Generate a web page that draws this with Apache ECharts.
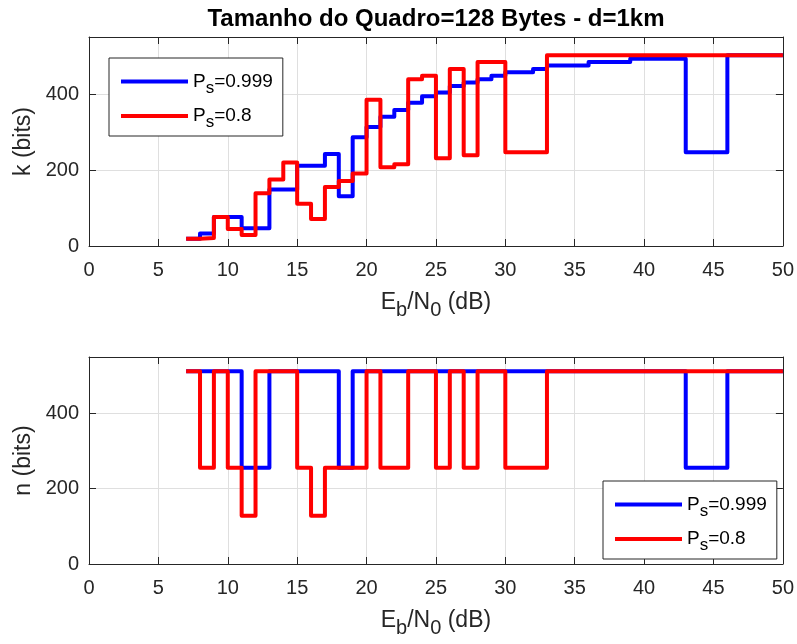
<!DOCTYPE html>
<html>
<head>
<meta charset="utf-8">
<script src="https://cdn.jsdelivr.net/npm/echarts@6/dist/echarts.min.js"></script>
<style>
  html, body { margin: 0; padding: 0; background: #ffffff; }
  #chart { width: 797px; height: 644px; }
</style>
</head>
<body>
<div id="chart"></div>
<script>
// Eb/N0 steps (dB); each value holds until the next step (stairs)
const ebN0 = [7, 8, 9, 10, 11, 12, 13, 14, 15, 16, 17, 18, 19, 20, 21, 22, 23, 24, 25, 26, 27, 28,
              29, 30, 31, 32, 33, 34, 35, 36, 37, 38, 39, 40, 41, 42, 43, 44, 45, 46, 47, 48, 49, 50];

// information bits k for each target success probability
const kPs999 = [19, 33, 76, 76, 47, 47, 149, 149, 211, 211, 242, 131, 286, 313, 340, 358, 377, 394, 404, 421, 430, 439,
                448, 457, 457, 466, 475, 475, 475, 484, 484, 484, 493, 493, 493, 493, 247, 247, 247, 502, 502, 502, 502, 502];
const kPs08   = [19, 21, 76, 45, 29, 139, 175, 220, 111, 71, 155, 171, 191, 385, 207, 215, 439, 448, 231, 466, 239, 484,
                484, 247, 247, 247, 502, 502, 502, 502, 502, 502, 502, 502, 502, 502, 502, 502, 502, 502, 502, 502, 502, 502];

// code word length n
const nPs999 = [512, 512, 512, 512, 256, 256, 512, 512, 512, 512, 512, 256, 512, 512, 512, 512, 512, 512, 512, 512, 512, 512,
                512, 512, 512, 512, 512, 512, 512, 512, 512, 512, 512, 512, 512, 512, 256, 256, 256, 512, 512, 512, 512, 512];
const nPs08   = [512, 256, 512, 256, 128, 512, 512, 512, 256, 128, 256, 256, 256, 512, 256, 256, 512, 512, 256, 512, 256, 512,
                512, 256, 256, 256, 512, 512, 512, 512, 512, 512, 512, 512, 512, 512, 512, 512, 512, 512, 512, 512, 512, 512];

const xTicks = { min: 0, max: 50, step: 5 };
const yTicks = { min: 0, max: 550, step: 200 };

const seriesNames = ['Ps=0.999', 'Ps=0.8'];
const legendText = { 'Ps=0.999': '{m|P}{s|s}{m|=0.999}', 'Ps=0.8': '{m|P}{s|s}{m|=0.8}' };

const FONT = '"Liberation Sans", Arial, Helvetica, sans-serif';
const INK = '#262626';
const GRIDLINE = '#dfdfdf';
const BLUE = '#0000ff';
const RED = '#ff0000';

function pairs(ys) { return ebN0.map((x, i) => [x, ys[i]]); }

const xName = '{m|E}{s|b}{m|/N}{s|0}{m| (dB)}';
const nameRich = {
  m: { fontSize: 23, lineHeight: 34, fontFamily: FONT, color: INK },
  s: { fontSize: 20, lineHeight: 14, fontFamily: FONT, color: INK, verticalAlign: 'bottom' }
};

function xAxes(g) {
  const common = {
    type: 'value', gridIndex: g, min: xTicks.min, max: xTicks.max, interval: xTicks.step,
    axisLine: { show: true, onZero: false, lineStyle: { color: INK, width: 1 } },
    axisTick: { show: true, inside: true, length: 7, lineStyle: { color: INK, width: 1 } }
  };
  return [
    Object.assign({}, common, {
      position: 'bottom',
      axisLabel: { color: INK, fontSize: 20, fontFamily: FONT, margin: 14 },
      splitLine: { show: true, lineStyle: { color: GRIDLINE, width: 1 } },
      name: xName, nameLocation: 'middle', nameGap: 40,
      nameTextStyle: { rich: nameRich }
    }),
    Object.assign({}, common, {
      position: 'top',
      axisLabel: { show: false },
      splitLine: { show: false }
    })
  ];
}

function yAxes(g, label) {
  const common = {
    type: 'value', gridIndex: g, min: yTicks.min, max: yTicks.max, interval: yTicks.step,
    axisLine: { show: true, onZero: false, lineStyle: { color: INK, width: 1 } },
    axisTick: { show: true, inside: true, length: 7, lineStyle: { color: INK, width: 1 } }
  };
  return [
    Object.assign({}, common, {
      position: 'left',
      axisLabel: { color: INK, fontSize: 20, fontFamily: FONT, margin: 10, showMaxLabel: false },
      splitLine: { show: true, lineStyle: { color: GRIDLINE, width: 1 } },
      name: label, nameLocation: 'middle', nameGap: 49, nameRotate: 90,
      nameTextStyle: { fontSize: 23, fontFamily: FONT, color: INK }
    }),
    Object.assign({}, common, {
      position: 'right',
      axisLabel: { show: false },
      splitLine: { show: false }
    })
  ];
}

function legendAt(pos) {
  return Object.assign({
    orient: 'vertical',
    data: seriesNames,
    icon: 'rect',
    itemWidth: 67,
    itemHeight: 4,
    itemGap: 10,
    padding: [14, 10, 5, 12],
    borderColor: INK,
    borderWidth: 1,
    backgroundColor: '#ffffff',
    selectedMode: false,
    formatter: name => legendText[name],
    textStyle: {
      rich: {
        m: { fontSize: 19, lineHeight: 30, fontFamily: FONT, color: '#000000' },
        s: { fontSize: 17, lineHeight: 12, fontFamily: FONT, color: '#000000', verticalAlign: 'bottom' }
      }
    }
  }, pos);
}

function stairs(name, color, ys, g) {
  return {
    name: name, type: 'line', step: 'end',
    xAxisIndex: g * 2, yAxisIndex: g * 2,
    data: pairs(ys),
    showSymbol: false, symbol: 'none',
    color: color,
    lineStyle: { color: color, width: 4, join: 'round', cap: 'butt' },
    emphasis: { disabled: true },
    animation: false
  };
}

const chart = echarts.init(document.getElementById('chart'), null, { renderer: 'canvas' });
chart.setOption({
  backgroundColor: '#ffffff',
  animation: false,
  title: {
    text: 'Tamanho do Quadro=128 Bytes - d=1km',
    left: 436, top: 7, padding: 0, textAlign: 'center',
    textStyle: { fontSize: 24, fontWeight: 'bold', fontFamily: FONT, color: '#000000' }
  },
  grid: [
    { left: 89, top: 37, width: 694, height: 209 },
    { left: 89, top: 357, width: 694, height: 207 }
  ],
  xAxis: xAxes(0).concat(xAxes(1)),
  yAxis: yAxes(0, 'k (bits)').concat(yAxes(1, 'n (bits)')),
  legend: [
    legendAt({ left: 109, top: 58 }),
    legendAt({ left: 603, top: 481 })
  ],
  series: [
    stairs(seriesNames[0], BLUE, kPs999, 0),
    stairs(seriesNames[1], RED, kPs08, 0),
    stairs(seriesNames[0], BLUE, nPs999, 1),
    stairs(seriesNames[1], RED, nPs08, 1)
  ]
});
</script>
</body>
</html>
